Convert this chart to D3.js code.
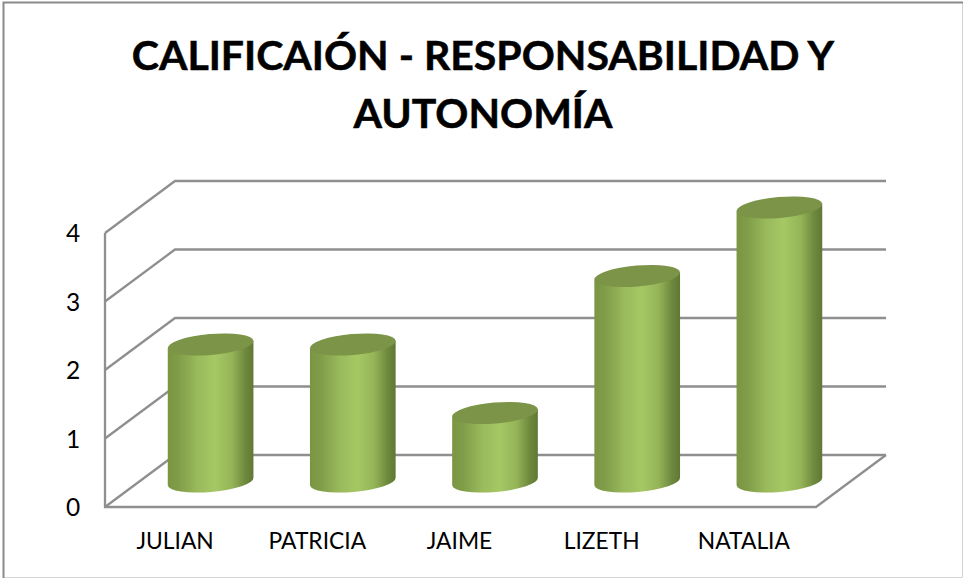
<!DOCTYPE html>
<html>
<head>
<meta charset="utf-8">
<script src="https://cdn.jsdelivr.net/npm/d3@7"></script>
<style>
html,body{margin:0;padding:0;background:#fff;overflow:hidden}
text{font-family:Lato,"Open Sans",sans-serif;fill:#000}
</style>
</head>
<body>
<svg id="chart" width="963" height="578"></svg>
<script>
const categories = ["JULIAN","PATRICIA","JAIME","LIZETH","NATALIA"];
const values = [2,2,1,3,4];
const tickValues = [0,1,2,3,4];
const titleLines = ["CALIFICAIÓN - RESPONSABILIDAD Y","AUTONOMÍA"];

const svg = d3.select("#chart");
const W = 963, H = 578;
const depthX = 70, depthY = -52;
const front = {x0:105, x1:816, y0:507, y4:233};
const y = d3.scaleLinear().domain([0,4]).range([front.y0, front.y4]);
const x = d3.scaleBand().domain(categories).range([front.x0, front.x1]).padding(0);
const gridColor = "#8f8f8f";

// frame: dark top and left edges, faint right and bottom edges
const frame = svg.append("g").attr("fill","none");
frame.append("path").attr("stroke","#d4d4d4").attr("stroke-width",1)
  .attr("d",d3.line()([[3.5,577.5],[962.5,577.5],[962.5,2]]));
frame.append("path").attr("stroke","#8a8a8a").attr("stroke-width",2)
  .attr("d",d3.line()([[3.5,578],[3.5,2.5],[963,2.5]]));

const defs = svg.append("defs");
const grad = defs.append("linearGradient").attr("id","cyl").attr("x1","0").attr("x2","1").attr("y1","0").attr("y2","0");
[[0,"#7a9642"],[0.12,"#7f9c48"],[0.35,"#9aba5c"],[0.55,"#a5c864"],[0.75,"#95b458"],[0.9,"#6f8a3e"],[1,"#5f7834"]]
  .forEach(s=>grad.append("stop").attr("offset",s[0]).attr("stop-color",s[1]));

// titles
svg.selectAll("text.title").data(titleLines).join("text").attr("class","title")
  .attr("x",483).attr("y",(d,i)=>70+i*58).attr("text-anchor","middle")
  .attr("font-size",41).attr("font-weight",700)
  .style("stroke","#000").style("stroke-width",0.5).text(d=>d);

// walls and grid
const g = svg.append("g").attr("fill","none").attr("stroke",gridColor).attr("stroke-width",2.3);
tickValues.forEach(t=>{
  g.append("path").attr("d",d3.line()([
    [front.x0,y(t)],[front.x0+depthX,y(t)+depthY],[front.x1+depthX,y(t)+depthY]
  ]));
});
g.append("path").attr("d",d3.line()([
  [front.x0,y(4)],[front.x0,y(0)],[front.x1,y(0)],[front.x1+depthX,y(0)+depthY]
]));

// y labels
svg.selectAll("text.ytick").data(tickValues).join("text").attr("class","ytick")
  .attr("x",73).attr("y",d=>y(d)+9).attr("text-anchor","middle")
  .attr("font-size",24.5).text(d=>d);

// x labels
svg.selectAll("text.xtick").data(categories).join("text").attr("class","xtick")
  .attr("x",d=>x(d)+x.bandwidth()/2-1).attr("y",549).attr("text-anchor","middle")
  .attr("font-size",22.8).text(d=>d);

// cylinders
const rx = 43, ry = 10.5, tilt = -5;
const rad = tilt*Math.PI/180;
const dy = rx*Math.sin(rad);
const dx = rx*Math.cos(rad);
const baseOffset = -25.5, cx = d=>x(d)+x.bandwidth()/2+34.5;
const cyl = svg.selectAll("g.cyl").data(categories.map((c,i)=>({c,v:values[i]}))).join("g").attr("class","cyl");
cyl.append("path").attr("fill","url(#cyl)").attr("d",d=>{
  const c = cx(d.c), top = y(d.v)+baseOffset, bot = y(0)+baseOffset;
  return `M${c-dx},${top-dy}L${c-dx},${bot-dy}A${rx},${ry},${tilt},0,0,${c+dx},${bot+dy}L${c+dx},${top+dy}Z`;
});
cyl.append("ellipse").attr("rx",rx).attr("ry",ry).attr("fill","#7b9448")
  .attr("transform",d=>`translate(${cx(d.c)},${y(d.v)+baseOffset}) rotate(${tilt})`);
</script>
</body>
</html>
